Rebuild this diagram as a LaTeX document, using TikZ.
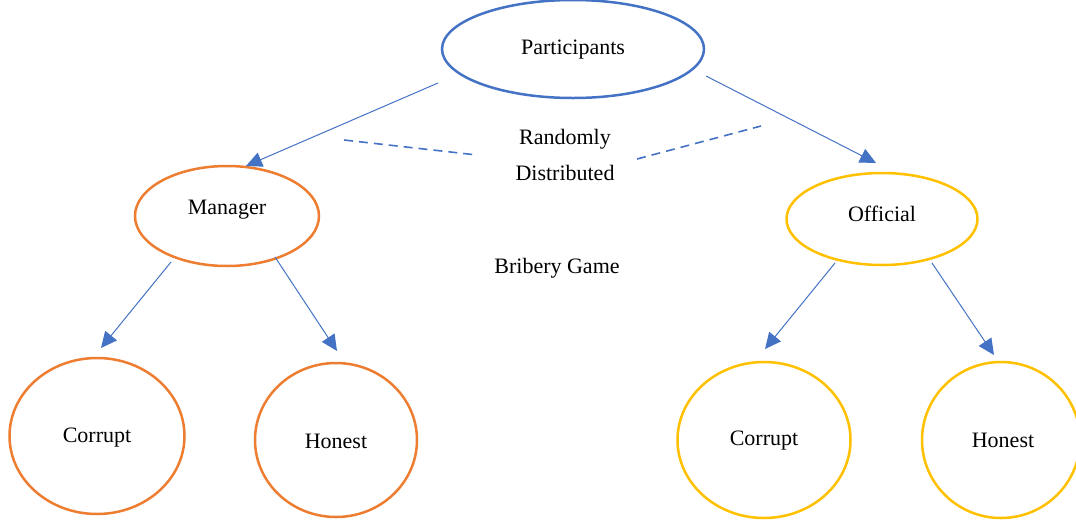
\documentclass[tikz,border=0pt]{standalone}
\usepackage{fontspec}
\setmainfont{Liberation Serif}
\usetikzlibrary{shapes.geometric,arrows.meta}
\definecolor{oblue}{HTML}{4472C4}
\definecolor{oorange}{HTML}{ED7D31}
\definecolor{ogold}{HTML}{FFC000}
\begin{document}
\begin{tikzpicture}[x=1pt,y=-1pt,
  every node/.style={font=\fontsize{22}{26}\selectfont},
  oval/.style={shape=ellipse,inner sep=0pt,line width=2.5pt},
  topoval/.style={oval,draw=oblue},
  mgroval/.style={oval,draw=oorange},
  offoval/.style={oval,draw=ogold},
  arr/.style={draw=oblue,line width=1pt,-{Triangle[length=16pt,width=15pt]}},
  dash line/.style={draw=oblue,line width=1.6pt,dash pattern=on 9pt off 6pt},
  lbl/.style={inner sep=0pt}]
\useasboundingbox (0,0) rectangle (1076,520);
% ovals
\node[topoval,minimum width=262pt,minimum height=98pt,label={[lbl,yshift=-1pt]center:Participants}] (P) at (573,49) {};
\node[mgroval,minimum width=184pt,minimum height=100pt,label={[lbl,yshift=6pt]center:Manager}] (M) at (227,216) {};
\node[offoval,minimum width=191pt,minimum height=92pt,label={[lbl,yshift=5pt]center:Official}] (O) at (882,219) {};
\node[mgroval,minimum width=175pt,minimum height=156pt,label={[lbl,yshift=-2pt]center:Corrupt}] (MC) at (97,436) {};
\node[mgroval,minimum width=162pt,minimum height=154pt,label={[lbl,yshift=-1pt]center:Honest}] (MH) at (336,440) {};
\node[offoval,minimum width=173pt,minimum height=156pt,label={[lbl,yshift=-1pt]center:Corrupt}] (OC) at (764,440) {};
\node[offoval,minimum width=158pt,minimum height=156pt,label={[lbl,yshift=0pt,xshift=2pt]center:Honest}] (OH) at (1001,440) {};
% free texts
\node[lbl] (rd) at (565,139) {Randomly};
\node[lbl] (ds) at (565,173) {Distributed};
\node[lbl] (bg) at (557,268) {Bribery Game};
% connector end points
\coordinate (pl) at (438,83);
\coordinate (ml) at (246,166);
\coordinate (pr) at (706,76);
\coordinate (or) at (876,163);
\coordinate (m1) at (171,262);
\coordinate (mc) at (101,348);
\coordinate (m2) at (275,257);
\coordinate (mh) at (337,351);
\coordinate (o1) at (835,263);
\coordinate (oc) at (765,349);
\coordinate (o2) at (932,263);
\coordinate (oh) at (994,355);
\coordinate (dl1) at (344,140);
\coordinate (dl2) at (477,155);
\coordinate (dr1) at (637,159);
\coordinate (dr2) at (761,126);
% connectors
\draw[arr] (pl) -- (ml);
\draw[arr] (pr) -- (or);
\draw[arr] (m1) -- (mc);
\draw[arr] (m2) -- (mh);
\draw[arr] (o1) -- (oc);
\draw[arr] (o2) -- (oh);
\draw[dash line] (dl1) -- (dl2);
\draw[dash line] (dr1) -- (dr2);
\end{tikzpicture}
\end{document}
